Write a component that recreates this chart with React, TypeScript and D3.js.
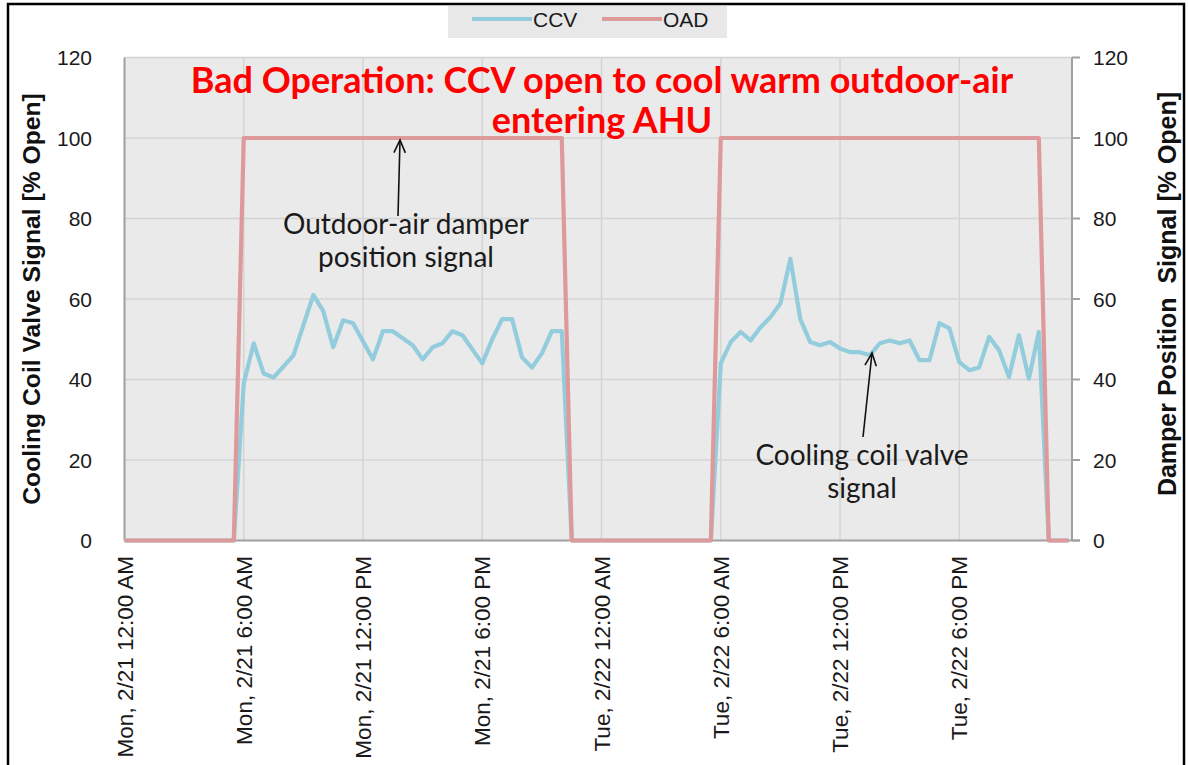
import React, { useRef, useEffect } from 'react';
import * as d3 from 'd3';

// hours since Mon 2/21 12:00 AM (trend logged every 30 min, flat stretches kept as endpoints)
const ccvPoints: [number, number][] = [
  [0, 0], [5.5, 0], [6, 39], [6.5, 49], [7, 41.5], [7.5, 40.5], [8.5, 46], [9.5, 61],
  [10, 57], [10.5, 48], [11, 54.7], [11.5, 54], [12.5, 45], [13, 52], [13.5, 52],
  [14.5, 48.5], [15, 45], [15.5, 48], [16, 49], [16.5, 52], [17, 51], [18, 44],
  [18.5, 50], [19, 55], [19.5, 55], [20, 45.5], [20.5, 43], [21, 46.5], [21.5, 52],
  [22, 52], [22.5, 0], [29.5, 0],
  [30, 44], [30.5, 49.3], [31, 51.8], [31.5, 49.7], [32, 53], [32.5, 55.5], [33, 58.9],
  [33.5, 70], [34, 55], [34.5, 49.3], [35, 48.5], [35.5, 49.3], [36, 47.7], [36.5, 46.8],
  [37, 46.8], [37.5, 46], [38, 49], [38.5, 49.7], [39, 49], [39.5, 49.7], [40, 44.8],
  [40.5, 44.8], [41, 54], [41.5, 52.7], [42, 44.3], [42.5, 42.3], [43, 43], [43.5, 50.6],
  [44, 47.3], [44.5, 40.6], [45, 51], [45.5, 40.2], [46, 51.8], [46.5, 0], [47.5, 0],
];

const oadPoints: [number, number][] = [
  [0, 0], [5.5, 0], [6, 100], [22, 100], [22.5, 0], [29.5, 0], [30, 100], [46, 100],
  [46.5, 0], [47.5, 0],
];

const tickHours = [0, 6, 12, 18, 24, 30, 36, 42];
const tickLabels = [
  'Mon, 2/21 12:00 AM', 'Mon, 2/21 6:00 AM', 'Mon, 2/21 12:00 PM', 'Mon, 2/21 6:00 PM',
  'Tue, 2/22 12:00 AM', 'Tue, 2/22 6:00 AM', 'Tue, 2/22 12:00 PM', 'Tue, 2/22 6:00 PM',
];
const yTicks = [0, 20, 40, 60, 80, 100, 120];

const seriesNames = ['CCV', 'OAD'];
const seriesColors = ['#93CDDD', '#DE9A9A'];

const titleLines = ['Bad Operation: CCV open to cool warm outdoor-air', 'entering AHU'];
const oadNote = ['Outdoor-air damper', 'position signal'];
const ccvNote = ['Cooling coil valve', 'signal'];

const axisFont = '"Liberation Sans", Arial, sans-serif';
const noteFont = 'Lato, "Open Sans", sans-serif';

export default function App() {
  const ref = useRef<SVGSVGElement>(null);

  useEffect(() => {
    draw();
  }, []);

  const draw = () => {
    const svg = d3.select(ref.current);
    svg.selectAll('*').remove();

    const left = 124.5, right = 1072, top = 57.5, bottom = 540.5;
    const x = d3.scaleLinear().domain([0, 47.67]).range([left, right]);
    const y = d3.scaleLinear().domain([0, 120]).range([bottom, top]);

    // outer frame
    svg.append('rect').attr('x', 8).attr('y', 4).attr('width', 1176).attr('height', 780)
      .attr('fill', 'none').attr('stroke', '#000').attr('stroke-width', 2.5);

    // plot area
    svg.append('rect').attr('x', left).attr('y', top).attr('width', right - left)
      .attr('height', bottom - top).attr('fill', '#EAEAEA');

    const grid = svg.append('g').attr('stroke', '#D4D4D4').attr('stroke-width', 1.5);
    grid.selectAll('.hg').data(yTicks.filter((d) => d > 0)).enter().append('line')
      .attr('x1', left).attr('x2', right).attr('y1', (d) => y(d)).attr('y2', (d) => y(d));
    grid.selectAll('.vg').data(tickHours.filter((d) => d > 0)).enter().append('line')
      .attr('x1', (d) => x(d)).attr('x2', (d) => x(d)).attr('y1', top).attr('y2', bottom);

    // axis lines
    const ax = svg.append('g').attr('stroke', '#A0A0A0').attr('stroke-width', 2);
    ax.append('line').attr('x1', left).attr('x2', left).attr('y1', top).attr('y2', bottom);
    ax.append('line').attr('x1', left).attr('x2', right + 8).attr('y1', bottom).attr('y2', bottom);
    ax.append('line').attr('x1', right).attr('x2', right).attr('y1', top).attr('y2', bottom);
    ax.selectAll('.rt').data(yTicks).enter().append('line')
      .attr('x1', right).attr('x2', right + 8).attr('y1', (d) => y(d)).attr('y2', (d) => y(d));

    // series
    const line = d3.line<[number, number]>().x((d) => x(d[0])).y((d) => y(d[1]));
    [ccvPoints, oadPoints].forEach((pts, i) => {
      svg.append('path').attr('d', line(pts)).attr('fill', 'none')
        .attr('stroke', seriesColors[i]).attr('stroke-width', 4.2)
        .attr('stroke-linejoin', 'round');
    });

    // y tick labels
    svg.append('g').selectAll('text').data(yTicks).enter().append('text')
      .attr('x', 92).attr('y', (d) => y(d)).attr('dy', '0.36em').attr('text-anchor', 'end')
      .attr('font-family', axisFont).attr('font-size', 21).attr('fill', '#1a1a1a')
      .text((d) => d);
    svg.append('g').selectAll('text').data(yTicks).enter().append('text')
      .attr('x', 1093).attr('y', (d) => y(d)).attr('dy', '0.36em').attr('text-anchor', 'start')
      .attr('font-family', axisFont).attr('font-size', 21).attr('fill', '#1a1a1a')
      .text((d) => d);

    // x tick labels
    svg.append('g').selectAll('text').data(tickHours).enter().append('text')
      .attr('transform', (d) => `translate(${x(d) + 8},556) rotate(-90)`)
      .attr('text-anchor', 'end')
      .attr('font-family', axisFont).attr('font-size', 22.5).attr('fill', '#1a1a1a')
      .text((d, i) => tickLabels[i]);

    // axis titles
    svg.append('text').attr('transform', `translate(40,${(top + bottom) / 2}) rotate(-90)`)
      .attr('text-anchor', 'middle').attr('font-family', axisFont).attr('font-weight', 'bold')
      .attr('font-size', 24.7).attr('fill', '#111').text('Cooling Coil Valve Signal [% Open]');
    svg.append('text').attr('transform', `translate(1176,${(top + bottom) / 2 - 5}) rotate(-90)`)
      .attr('text-anchor', 'middle').attr('font-family', axisFont).attr('font-weight', 'bold')
      .attr('font-size', 25).attr('fill', '#111').style('white-space', 'pre')
      .text('Damper Position  Signal [% Open]');

    // legend
    svg.append('rect').attr('x', 448).attr('y', 6).attr('width', 279).attr('height', 32)
      .attr('fill', '#E8E8E8');
    const lg = svg.append('g');
    [472, 602].forEach((lx, i) => {
      lg.append('line').attr('x1', lx).attr('x2', lx + 60).attr('y1', 19).attr('y2', 19)
        .attr('stroke', seriesColors[i]).attr('stroke-width', 4);
      lg.append('text').attr('x', lx + 61).attr('y', 27).attr('font-family', axisFont)
        .attr('font-size', 21).attr('fill', '#1a1a1a').text(seriesNames[i]);
    });

    // title
    svg.append('g').selectAll('text').data(titleLines).enter().append('text')
      .attr('x', 602).attr('y', (d, i) => 93 + i * 40).attr('text-anchor', 'middle')
      .attr('font-family', noteFont).attr('font-weight', 'bold').attr('font-size', 36)
      .attr('fill', '#FF0000').text((d) => d);

    // annotations
    const arrow = (x1: number, y1: number, x2: number, y2: number) => {
      const g = svg.append('g').attr('stroke', '#111').attr('stroke-width', 1.6).attr('fill', 'none');
      g.append('line').attr('x1', x1).attr('y1', y1).attr('x2', x2).attr('y2', y2);
      const a = Math.atan2(y2 - y1, x2 - x1);
      const h = 14, s = 0.42;
      g.append('polyline').attr('points', [
        [x2 - h * Math.cos(a - s), y2 - h * Math.sin(a - s)],
        [x2, y2],
        [x2 - h * Math.cos(a + s), y2 - h * Math.sin(a + s)],
      ].map((p) => p.join(',')).join(' '));
    };
    arrow(398, 216, 400, 140);
    arrow(863, 437, 872, 353);

    svg.append('g').selectAll('text').data(oadNote).enter().append('text')
      .attr('x', 406).attr('y', (d, i) => 234 + i * 33).attr('text-anchor', 'middle')
      .attr('font-family', noteFont).attr('font-size', 28).attr('fill', '#1a1a1a').text((d) => d);
    svg.append('g').selectAll('text').data(ccvNote).enter().append('text')
      .attr('x', 862).attr('y', (d, i) => 465 + i * 33).attr('text-anchor', 'middle')
      .attr('font-family', noteFont).attr('font-size', 28).attr('fill', '#1a1a1a').text((d) => d);
  };

  return (
    <svg ref={ref} width={1188} height={765}
      style={{ position: 'absolute', left: 0, top: 0, background: '#fff' }} />
  );
}
